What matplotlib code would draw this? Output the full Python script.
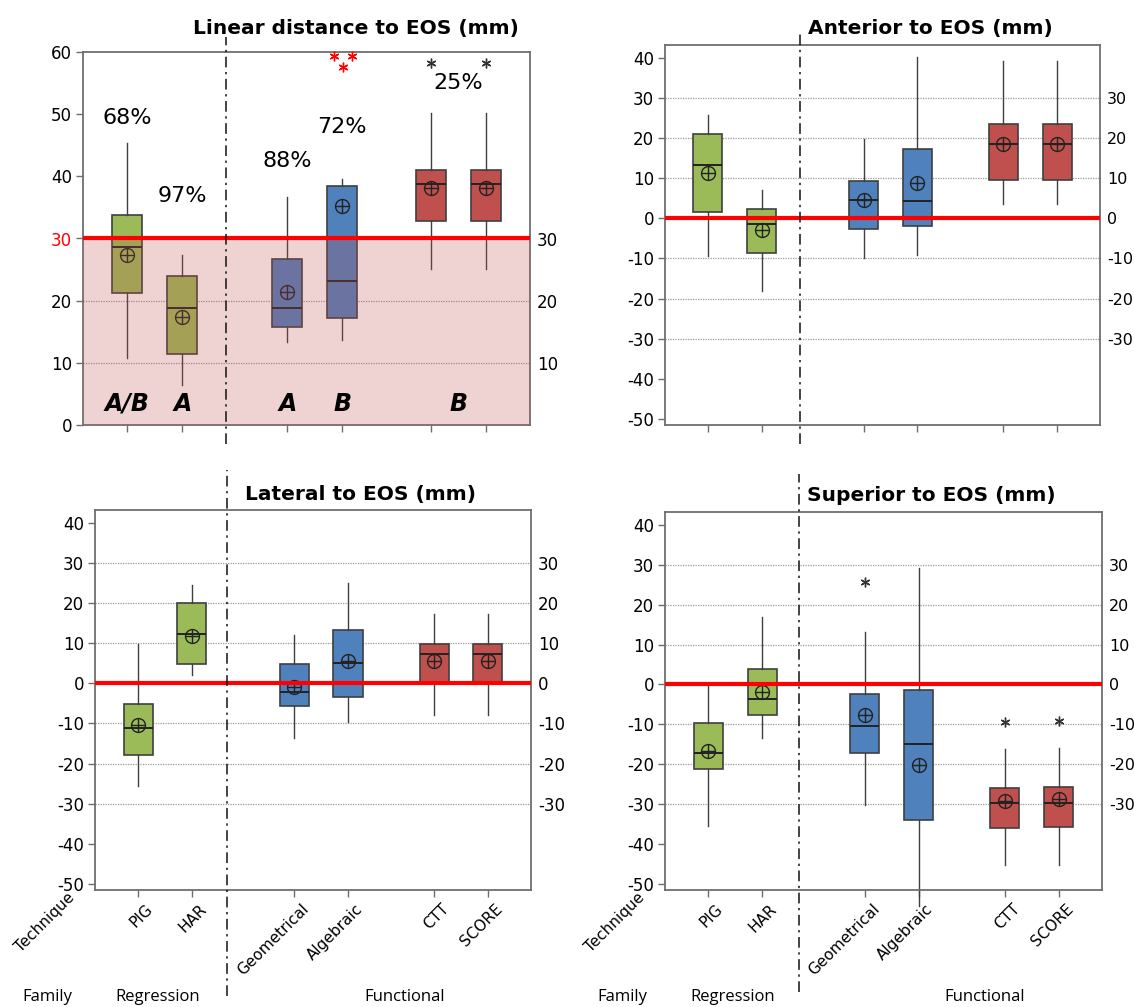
import matplotlib
matplotlib.use('Agg')
import matplotlib.pyplot as plt
import matplotlib.transforms as mtransforms

# ---------------- data ----------------
techniques = ['PIG', 'HAR', 'Geometrical', 'Algebraic', 'CTT', 'SCORE']
families = ['Regression', 'Functional']
box_colors = ['#9BBB59', '#9BBB59', '#4F81BD', '#4F81BD', '#C0504D', '#C0504D']

# Linear distance to EOS (mm)
lin_whislo = [10.7, 6.5, 13.4, 13.7, 25.1, 25.1]
lin_q1 = [21.2, 11.5, 15.7, 17.2, 32.8, 32.8]
lin_med = [28.7, 18.8, 18.8, 23.2, 38.7, 38.7]
lin_mean = [27.4, 17.3, 21.4, 35.2, 38.2, 38.2]
lin_q3 = [33.8, 23.9, 26.7, 38.4, 41.0, 41.0]
lin_whishi = [45.3, 27.4, 36.6, 39.5, 50.2, 50.2]
lin_out_idx = [3, 3, 3, 4, 5]
lin_out_val = [59.4, 59.4, 57.6, 58.3, 58.3]
lin_out_jit = [-0.15, 0.17, 0.01, 0.0, 0.0]
lin_out_col = ['#FF0000', '#FF0000', '#FF0000', '#333333', '#333333']
lin_pct = ['68%', '97%', '88%', '72%', '25%']
lin_pct_idx = [(0,), (1,), (2,), (3,), (4, 5)]
lin_pct_y = [49.4, 36.8, 42.5, 48.0, 55.0]
lin_grp = ['A/B', 'A', 'A', 'B', 'B']
lin_grp_idx = [(0,), (1,), (2,), (3,), (4, 5)]
lin_grp_y = 3.4
lin_threshold = 30

# Anterior to EOS (mm)
ant_whislo = [-9.4, -18.0, -10.0, -9.1, 3.7, 3.7]
ant_q1 = [1.7, -8.6, -2.6, -2.0, 9.6, 9.6]
ant_med = [13.2, -1.5, 4.6, 4.2, 18.5, 18.5]
ant_mean = [11.4, -3.0, 4.6, 8.7, 18.5, 18.5]
ant_q3 = [20.9, 2.3, 9.3, 17.2, 23.5, 23.5]
ant_whishi = [25.7, 7.0, 19.7, 40.1, 39.2, 39.2]

# Lateral to EOS (mm)
lat_whislo = [-25.7, 2.0, -13.7, -9.7, -7.8, -7.8]
lat_q1 = [-17.9, 4.7, -5.7, -3.4, 0.2, 0.2]
lat_med = [-11.1, 12.3, -2.1, 5.0, 7.2, 7.2]
lat_mean = [-10.3, 11.9, -1.0, 5.6, 5.6, 5.6]
lat_q3 = [-5.1, 19.9, 4.7, 13.3, 9.8, 9.8]
lat_whishi = [9.9, 24.4, 12.1, 25.1, 17.3, 17.3]

# Superior to EOS (mm)
sup_whislo = [-35.5, -13.4, -30.3, -55.5, -45.2, -45.2]
sup_q1 = [-21.3, -7.7, -17.3, -34.0, -36.0, -35.7]
sup_med = [-17.2, -3.7, -10.5, -15.0, -29.8, -29.6]
sup_mean = [-16.6, -1.8, -7.7, -20.1, -29.2, -28.8]
sup_q3 = [-9.7, 3.8, -2.5, -1.3, -26.0, -25.8]
sup_whishi = [0.0, 16.8, 13.2, 29.1, -16.2, -16.0]
sup_out_idx = [2, 4, 5]
sup_out_val = [25.7, -9.4, -9.2]

left_ticks_lin = [0, 10, 20, 30, 40, 50, 60]
right_ticks_lin = [10, 20, 30]
left_ticks_sig = [40, 30, 20, 10, 0, -10, -20, -30, -40, -50]
right_ticks_sig = [30, 20, 10, 0, -10, -20, -30]

titles = ['Linear distance to EOS (mm)', 'Anterior to EOS (mm)',
          'Lateral to EOS (mm)', 'Superior to EOS (mm)']

# ---------------- layout / style ----------------
positions = [1, 2, 3.9, 4.9, 6.5, 7.5]
W, H = 1134, 1007
plt.rcParams['font.family'] = ['DejaVu Sans']
plt.rcParams['axes.unicode_minus'] = False
fig = plt.figure(figsize=(W / 100, H / 100), dpi=100)


def rect(x0, x1, y0, y1):
    return [x0 / W, 1 - y1 / H, (x1 - x0) / W, (y1 - y0) / H]


ax1 = fig.add_axes(rect(83, 530, 52, 425))
ax2 = fig.add_axes(rect(665, 1100, 45, 425))
ax3 = fig.add_axes(rect(95, 531, 510, 890))
ax4 = fig.add_axes(rect(665, 1102, 512, 890))

edge = '#3f3f3f'
spine_col = '#6e6e6e'


def make_stats(lo, q1, med, mean, q3, hi):
    return [dict(whislo=a, q1=b, med=c, mean=d, q3=e, whishi=f, fliers=[])
            for a, b, c, d, e, f in zip(lo, q1, med, mean, q3, hi)]


def draw_panel(ax, stats, ylim, lticks, rticks, title, dash_x, zero_line,
               show_labels, dash_span, rsize=12, tpad=12):
    ax.set_xlim(0.2, 8.3)
    ax.set_ylim(*ylim)
    for v in rticks:
        ax.axhline(v, color='#9a9a9a', lw=0.9, ls=(0, (1, 1)), zorder=0.5)
    bp = ax.bxp(stats, positions=positions, widths=0.54, patch_artist=True,
                showmeans=True, showcaps=False, showfliers=False,
                boxprops=dict(edgecolor=edge, linewidth=1.2),
                whiskerprops=dict(color=edge, linewidth=1.0),
                medianprops=dict(color='#222222', linewidth=1.4),
                meanprops=dict(marker='o', markerfacecolor='none',
                               markeredgecolor='#222222', markersize=10,
                               markeredgewidth=1.0),
                zorder=2)
    for patch, c in zip(bp['boxes'], box_colors):
        patch.set_facecolor(c)
    for w in bp['whiskers']:
        w.set_clip_on(False)
    ax.plot(positions, [s['mean'] for s in stats], ls='none', marker='+',
            color='#222222', markersize=10, markeredgewidth=1.0, zorder=2.6)
    ax.axhline(zero_line, color='#FF0000', lw=3, zorder=5)
    # dash-dot separator
    trans = mtransforms.blended_transform_factory(ax.transData, ax.transAxes)
    ax.plot([dash_x, dash_x], dash_span, transform=trans, color='#111111',
            lw=1.1, ls=(0, (7, 3, 1.5, 3)), clip_on=False, zorder=6)
    ax.set_yticks(lticks)
    ax.set_xticks(positions)
    ax.tick_params(axis='both', direction='out', length=5, width=1,
                   color=spine_col, labelsize=12, pad=3)
    if show_labels:
        ax.set_xticklabels(techniques, rotation=45, ha='right',
                           rotation_mode='anchor', fontsize=11)
        off = mtransforms.ScaledTranslation(0.07, 0, fig.dpi_scale_trans)
        for lab in ax.get_xticklabels():
            lab.set_transform(lab.get_transform() + off)
        ax.text(-0.45, 0, 'Technique', transform=trans + off, rotation=45,
                ha='right', va='top', rotation_mode='anchor', fontsize=11)
    else:
        ax.set_xticklabels([])
    for s in ax.spines.values():
        s.set_color(spine_col)
        s.set_linewidth(1.3)
    axr = ax.twinx()
    axr.set_ylim(*ylim)
    axr.set_yticks(rticks)
    axr.tick_params(axis='y', length=0, labelsize=rsize, pad=5)
    for s in axr.spines.values():
        s.set_visible(False)
    ax.set_title(title, fontsize=14.5, fontweight='bold', x=0.61, pad=tpad)
    return trans


# Panel 1: linear distance
st1 = make_stats(lin_whislo, lin_q1, lin_med, lin_mean, lin_q3, lin_whishi)
draw_panel(ax1, st1, (0, 60), left_ticks_lin, right_ticks_lin, titles[0],
           2.8, lin_threshold, False, [-0.05, 1.04], tpad=13)
ax1.axhspan(0, lin_threshold, color='#C0504D', alpha=0.25, lw=0, zorder=3)
for t, lab in zip(ax1.get_yticks(), ax1.get_yticklabels()):
    lab.set_color('#FF0000' if t == lin_threshold else 'black')
for i, v, j, c in zip(lin_out_idx, lin_out_val, lin_out_jit, lin_out_col):
    ax1.plot(positions[i] + j, v, ls='none', marker=(6, 2, 0), markersize=7,
             color=c, markeredgewidth=1.0, zorder=4, clip_on=False)
for txt, idx, y in zip(lin_pct, lin_pct_idx, lin_pct_y):
    x = sum(positions[k] for k in idx) / len(idx)
    ax1.text(x, y, txt, ha='center', va='center', fontsize=16, zorder=7)
for txt, idx in zip(lin_grp, lin_grp_idx):
    x = sum(positions[k] for k in idx) / len(idx)
    ax1.text(x, lin_grp_y, txt, ha='center', va='center', fontsize=17,
             fontweight='bold', fontstyle='italic', zorder=7)

# Panel 2: anterior
st2 = make_stats(ant_whislo, ant_q1, ant_med, ant_mean, ant_q3, ant_whishi)
draw_panel(ax2, st2, (-51.5, 43.2), left_ticks_sig, right_ticks_sig, titles[1],
           2.72, 0, False, [-0.05, 1.04], rsize=11.5, tpad=8)

# Panel 3: lateral
st3 = make_stats(lat_whislo, lat_q1, lat_med, lat_mean, lat_q3, lat_whishi)
draw_panel(ax3, st3, (-51.5, 43.2), left_ticks_sig, right_ticks_sig, titles[2],
           2.65, 0, True, [-0.28, 1.105], tpad=7)

# Panel 4: superior
st4 = make_stats(sup_whislo, sup_q1, sup_med, sup_mean, sup_q3, sup_whishi)
draw_panel(ax4, st4, (-51.5, 43.2), left_ticks_sig, right_ticks_sig, titles[3],
           2.68, 0, True, [-0.27, 1.10], rsize=11.5, tpad=8)
for i, v in zip(sup_out_idx, sup_out_val):
    ax4.plot(positions[i], v, ls='none', marker=(6, 2, 0), markersize=7,
             color='#333333', markeredgewidth=1.0, zorder=4)

# Family row
fam_font = dict(fontsize=12, family='Open Sans', va='center', ha='center')
for xs in ([47, 158, 405], [622, 733, 985]):
    fig.text(xs[0] / W, 1 - 997 / H, 'Family', **fam_font)
    fig.text(xs[1] / W, 1 - 997 / H, families[0], **fam_font)
    fig.text(xs[2] / W, 1 - 997 / H, families[1], **fam_font)

fig.savefig('out.png', dpi=100)
